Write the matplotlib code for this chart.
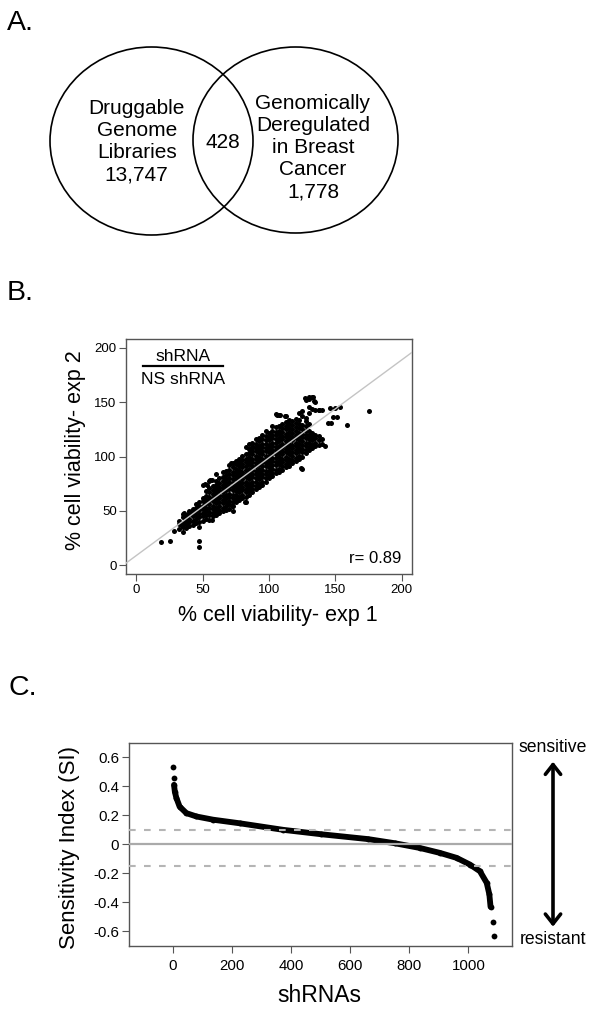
import numpy as np
import matplotlib
matplotlib.use("Agg")
import matplotlib.pyplot as plt
from matplotlib.patches import Ellipse

plt.rcParams['font.family'] = ['Liberation Sans', 'DejaVu Sans']
plt.rcParams['axes.unicode_minus'] = False
plt.rcParams['lines.scale_dashes'] = False

# ---- panel A: venn counts
venn_left = ["Druggable", "Genome", "Libraries", "13,747"]
venn_right = ["Genomically", "Deregulated", "in Breast", "Cancer", "1,778"]
venn_overlap = "428"

# ---- panel B: replicate viability (exp 1 vs exp 2), dense core read column by column
cloud_x = [32.5, 35, 37.5, 40, 42.5, 45, 47.5, 50, 52.5, 55, 57.5, 60, 62.5, 65,
           67.5, 70, 72.5, 75, 77.5, 80, 82.5, 85, 87.5, 90, 92.5, 95, 97.5, 100,
           102.5, 105, 107.5, 110, 112.5, 115, 117.5, 120, 122.5, 125, 127.5, 130,
           132.5, 135, 137.5, 140, 142.5]
cloud_y = [
    [33, 38, 41],
    [31, 35, 39, 44, 47],
    [34, 38, 42, 46],
    [36, 40, 43, 47, 50],
    [37, 41, 45, 48, 52],
    [39, 43, 46, 50, 53, 56],
    [40, 44, 47, 51, 55, 58],
    [41, 45, 48, 52, 55, 59, 62, 74],
    [43, 46, 50, 53, 57, 60, 64, 68],
    [42, 46, 49, 53, 56, 60, 63, 67, 71, 78],
    [45, 48, 52, 55, 59, 62, 66, 69, 73],
    [46, 50, 53, 57, 60, 64, 67, 71, 74, 78, 84],
    [48, 51, 55, 58, 62, 65, 69, 72, 76, 80],
    [50, 53, 57, 60, 64, 67, 71, 74, 78, 81, 86],
    [51, 55, 58, 62, 65, 69, 72, 76, 79, 83, 87],
    [52, 56, 59, 63, 66, 70, 73, 77, 80, 84, 88, 92],
    [50, 55, 58, 62, 65, 69, 72, 76, 79, 83, 86, 90, 94],
    [58, 61, 65, 68, 72, 75, 79, 82, 86, 89, 93, 96],
    [60, 63, 67, 70, 74, 77, 81, 84, 88, 91, 95, 98],
    [62, 65, 69, 72, 76, 79, 83, 86, 90, 93, 97, 101],
    [58, 63, 67, 70, 74, 77, 81, 84, 88, 91, 95, 98, 102, 109],
    [65, 68, 72, 75, 79, 82, 86, 89, 93, 96, 100, 103, 107, 112],
    [67, 70, 74, 77, 81, 84, 88, 91, 95, 98, 102, 105, 109, 113],
    [70, 73, 77, 80, 84, 87, 91, 94, 98, 101, 105, 108, 112, 116],
    [72, 75, 79, 82, 86, 89, 93, 96, 100, 103, 107, 110, 114, 117],
    [74, 77, 81, 84, 88, 91, 95, 98, 102, 105, 109, 112, 116, 120],
    [77, 80, 84, 87, 91, 94, 98, 101, 105, 108, 112, 115, 119, 124],
    [80, 83, 87, 90, 94, 97, 101, 104, 108, 111, 115, 118, 122],
    [82, 85, 89, 92, 96, 99, 103, 106, 110, 113, 117, 120, 124, 128],
    [85, 88, 92, 95, 99, 102, 106, 109, 113, 116, 120, 123, 127, 139],
    [86, 89, 93, 96, 100, 103, 107, 110, 114, 117, 121, 124, 128, 138],
    [88, 91, 95, 98, 102, 105, 109, 112, 116, 119, 123, 126, 130],
    [90, 93, 97, 100, 104, 107, 111, 114, 118, 121, 125, 128, 132, 137],
    [91, 95, 98, 102, 105, 109, 112, 116, 119, 123, 126, 130, 134],
    [94, 97, 101, 104, 108, 111, 115, 118, 122, 125, 129, 133],
    [96, 99, 103, 106, 110, 113, 117, 120, 124, 127, 131, 135],
    [98, 101, 105, 108, 112, 115, 119, 122, 126, 130, 134, 140],
    [89, 100, 104, 107, 111, 114, 118, 121, 125, 129, 137, 142],
    [103, 106, 110, 113, 117, 120, 124, 128, 133, 136, 152],
    [106, 109, 113, 116, 120, 124, 130, 140, 146, 153],
    [108, 111, 115, 118, 122, 144, 155],
    [110, 113, 117, 120, 143, 150],
    [111, 115, 119, 143],
    [112, 116],
    [110],
]
# scattered points outside the core
stray_x = [18.8, 25.6, 28.6, 47.4, 47.4, 47.2, 34.4, 37.6, 40.1, 51.4, 57.2, 57.0,
           72.0, 81.9, 175.7, 158.6, 151.1, 148.6, 145.6, 153.6, 150.1, 144.8, 146.8,
           127.3, 129.8, 133.0, 134.0, 137.3, 139.8, 105.9, 108.4, 112.2, 88.3, 71.5,
           53.2, 55.7, 35.6, 39.4, 124.0]
stray_y = [21.2, 22.7, 31.9, 22.1, 17.1, 35.6, 36.5, 40.2, 49.4, 74.6, 78.6, 41.7,
           55.0, 57.9, 141.6, 129.3, 136.4, 136.4, 144.7, 145.6, 144.7, 131.4, 130.9,
           153.5, 154.8, 154.5, 150.8, 143.1, 143.1, 138.5, 138.5, 137.0, 109.3, 94.0,
           74.0, 78.6, 47.9, 47.9, 89.4]
fit_intercept = 9.0
fit_slope = 0.9
r_value = "0.89"

# ---- panel C: sorted sensitivity index
rank = [0, 2, 3, 6, 11, 22, 45, 79, 135, 226, 373, 500, 661, 750, 836, 904,
        960, 1005, 1039, 1062, 1071, 1075, 1082, 1086]
si = [0.53, 0.46, 0.41, 0.36, 0.32, 0.26, 0.215, 0.192, 0.17, 0.145, 0.10, 0.07,
      0.036, 0.008, -0.025, -0.059, -0.093, -0.139, -0.185, -0.265, -0.345, -0.43,
      -0.535, -0.63]
si_cutoffs = [0.1, -0.15]

fig = plt.figure(figsize=(6, 10.17), dpi=100)

frame = '#555555'

# panel B
axB = fig.add_axes([0.2095, 0.4356, 0.4777, 0.2308])
xs = np.repeat(cloud_x, [len(c) for c in cloud_y])
ys = np.concatenate(cloud_y)
axB.scatter(xs, ys, s=13, c='black', linewidths=0, zorder=2)
axB.scatter(stray_x, stray_y, s=13, c='black', linewidths=0, zorder=2)
lx = np.array([-8, 208])
axB.plot(lx, fit_intercept + fit_slope * lx, color='#c4c4c4', lw=1, zorder=3)
axB.set_xlim(-8, 208)
axB.set_ylim(-8, 208)
axB.set_xticks([0, 50, 100, 150, 200])
axB.set_yticks([0, 50, 100, 150, 200])
axB.tick_params(length=5, width=0.8, color=frame, labelsize=9.5)
axB.tick_params(axis='y', pad=1.5)
axB.tick_params(axis='x', pad=2.5)
for s in axB.spines.values():
    s.set_color(frame)
    s.set_linewidth(1)

# panel C
axC = fig.add_axes([0.2157, 0.0698, 0.6378, 0.1999])
axC.plot(rank[2:22], si[2:22], color='black', lw=4.2, solid_capstyle='round', zorder=2)
axC.plot(rank, si, 'o', color='black', ms=4.2, mew=0, zorder=2)
axC.axhline(0, color='#aaaaaa', lw=1.6, zorder=3)
for c in si_cutoffs:
    axC.axhline(c, color='#b5b5b5', lw=1.5, dashes=(4.8, 6), zorder=3)
axC.set_xlim(-148, 1148)
axC.set_ylim(-0.7, 0.7)
axC.set_xticks([0, 200, 400, 600, 800, 1000])
yt = [0.6, 0.4, 0.2, 0, -0.2, -0.4, -0.6]
axC.set_yticks(yt)
axC.set_yticklabels(['0.6', '0.4', '0.2', '0', '-0.2', '-0.4', '-0.6'])
axC.tick_params(length=5, width=0.8, color=frame, labelsize=10.8)
axC.tick_params(axis='y', pad=2.5)
axC.tick_params(axis='x', pad=4)
for s in axC.spines.values():
    s.set_color(frame)
    s.set_linewidth(1)

# overlay in pixel coordinates for venn, labels and arrow
ov = fig.add_axes([0, 0, 1, 1], zorder=10)
ov.set_xlim(0, 600)
ov.set_ylim(1017, 0)
ov.axis('off')

ov.add_patch(Ellipse((151.5, 141), 203, 188, fill=False, lw=1.2, ec='black'))
ov.add_patch(Ellipse((295.5, 140), 205, 186, fill=False, lw=1.2, ec='black'))
ov.text(136.7, 141.5, "\n".join(venn_left), ha='center', va='center',
        fontsize=15, linespacing=1.22)
ov.text(313, 147.5, "\n".join(venn_right), ha='center', va='center',
        fontsize=15, linespacing=1.2)
ov.text(223, 142, venn_overlap, ha='center', va='center', fontsize=15)

ov.text(7, 23, "A.", fontsize=20.5, va='center', ha='left')
ov.text(7, 292.5, "B.", fontsize=20.5, va='center', ha='left')
ov.text(8, 688, "C.", fontsize=20.5, va='center', ha='left')

# panel B annotations
ov.text(182.7, 356.7, "shRNA", ha='center', va='center', fontsize=12.5)
ov.plot([142.7, 222.7], [366.3, 366.3], color='black', lw=1.6)
ov.text(182.7, 380, "NS shRNA", ha='center', va='center', fontsize=12.5)
ov.text(401.7, 558.3, "r= " + r_value, ha='right', va='center', fontsize=12)
ov.text(277.5, 615, "% cell viability- exp 1", ha='center', va='center', fontsize=15.5)
ov.text(75, 450, "% cell viability- exp 2", ha='center', va='center', fontsize=15.5,
        rotation=90)

# panel C annotations
ov.text(69, 847.5, "Sensitivity Index (SI)", ha='center', va='center', fontsize=16,
        rotation=90)
ov.text(319.5, 995, "shRNAs", ha='center', va='center', fontsize=16.5)
ov.text(553, 748, "sensitive", ha='center', va='center', fontsize=12.7)
ov.text(553, 939, "resistant", ha='center', va='center', fontsize=12.7)
ov.annotate('', xy=(553, 761.7), xytext=(553, 926.7),
            arrowprops=dict(arrowstyle='<->, head_length=0.7, head_width=0.55',
                            lw=2.6, color='black', mutation_scale=10,
                            shrinkA=0, shrinkB=0))

fig.savefig("out.png", dpi=100, facecolor='white')
